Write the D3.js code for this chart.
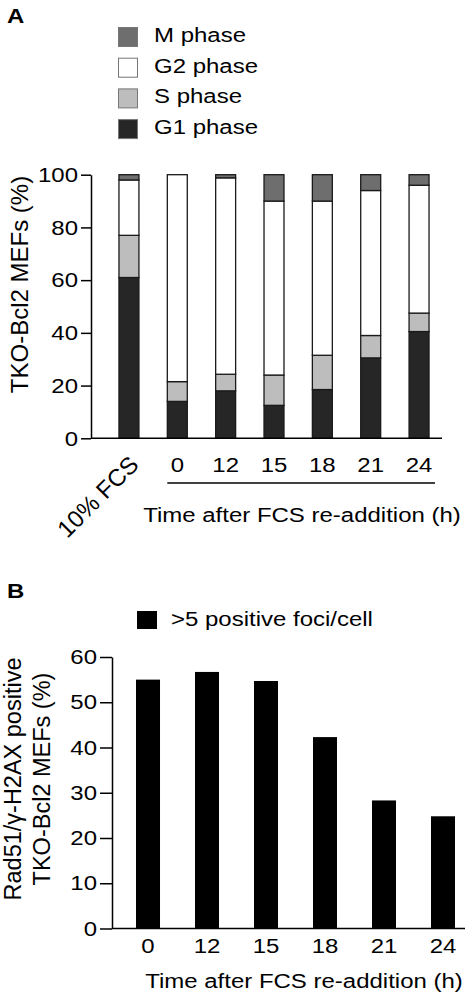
<!DOCTYPE html>
<html><head><meta charset="utf-8">
<script src="https://cdn.jsdelivr.net/npm/d3@7"></script>
<style>
body{margin:0;background:#fff}
svg{display:block}
text{font-family:"Liberation Sans",Arial,Helvetica,sans-serif;fill:#000}
</style>
</head><body>
<svg id="c" width="473" height="997"></svg>
<script>
// ---------- Data ----------
const categoriesA = ["10% FCS","0","12","15","18","21","24"];
const phases = ["G1 phase","S phase","G2 phase","M phase"];
const g1Values = [61, 14, 18, 12.5, 18.5, 30.5, 40.5];
const sValues  = [16, 7.5, 6.3, 11.5, 13, 8.5, 7];
const g2Values = [21, 78.5, 74.5, 66, 58.5, 55, 48.5];
const mValues  = [2, 0, 1.2, 10, 10, 6, 4];
const ticksA = [0,20,40,60,80,100];
const legendOrderA = ["M phase","G2 phase","S phase","G1 phase"];

const categoriesB = ["0","12","15","18","21","24"];
const fociValues = [55, 56.7, 54.7, 42.3, 28.3, 24.8];
const ticksB = [0,10,20,30,40,50,60];

// ---------- Helpers ----------
const svg = d3.select("#c");
const FS = 24, SY = 0.875;
function htext(parent, x, y, str, anchor, bold) {
  const t = parent.append("text")
    .attr("transform", `translate(${x},${y}) scale(1,${SY})`)
    .attr("text-anchor", anchor || "start")
    .style("font-size", FS + "px")
    .text(str);
  if (bold) t.style("font-weight", "bold");
  return t;
}
function styleAxis(ax) {
  ax.attr("font-size", null).attr("font-family", null);
  ax.select(".domain").attr("stroke", "#000").attr("stroke-width", 1.5);
  ax.selectAll(".tick line").attr("stroke", "#000").attr("stroke-width", 1.5);
  ax.selectAll(".tick text").style("font-size", FS + "px");
}

// ---------- Panel A ----------
const colors = {"G1 phase":"#262626","S phase":"#bdbdbd","G2 phase":"#ffffff","M phase":"#6e6e6e"};
const rowsA = categoriesA.map((c,i)=>({cat:c,"G1 phase":g1Values[i],"S phase":sValues[i],"G2 phase":g2Values[i],"M phase":mValues[i]}));
const stackA = d3.stack().keys(phases)(rowsA);
const yA = d3.scaleLinear().domain([0,100]).range([438.3,174.7]);
const xA = d3.scaleBand().domain(categoriesA).range([104.8,443.2]).paddingInner(0.587).paddingOuter(0.293);
const axXA = 91;
const gA = svg.append("g");
htext(gA, 7, 23, "A", "start", true);

const legA = gA.append("g");
legendOrderA.forEach((p,i)=>{
  const yy = 27 + i*30.7;
  legA.append("rect").attr("x",118.5).attr("y",yy+0.5).attr("width",19).attr("height",19)
    .attr("fill",colors[p]).attr("stroke","#777").attr("stroke-width",1);
  htext(legA, 154, yy+15, p);
});

gA.append("g").selectAll("g").data(stackA).join("g").attr("fill", d=>colors[d.key])
  .selectAll("rect").data(d=>d).join("rect")
  .attr("x", d=>xA(d.data.cat)).attr("width", xA.bandwidth())
  .attr("y", d=>yA(d[1])).attr("height", d=>yA(d[0])-yA(d[1]))
  .attr("stroke","#1a1a1a").attr("stroke-width",1.3);

const yAxisA = gA.append("g").attr("transform",`translate(${axXA},0)`)
  .call(d3.axisLeft(yA).tickValues(ticksA).tickSize(10).tickPadding(3).tickSizeOuter(0));
styleAxis(yAxisA);
yAxisA.selectAll(".tick text").attr("transform",`scale(1,${SY})`);

gA.append("line").attr("x1",axXA).attr("x2",442).attr("y1",yA(0)).attr("y2",yA(0))
  .attr("stroke","#000").attr("stroke-width",1.5);

const xAxisA = gA.append("g").attr("transform",`translate(0,${yA(0)})`).call(d3.axisBottom(xA).tickSize(0));
xAxisA.attr("font-size", null).attr("font-family", null);
xAxisA.select(".domain").remove();
xAxisA.selectAll(".tick text").attr("y",0).attr("dy",0).style("font-size",FS+"px")
  .attr("text-anchor", d=> d==="10% FCS" ? "end" : "middle")
  .attr("transform", d => d==="10% FCS" ? `translate(11,28) rotate(-45)` : `translate(0,34) scale(1,${SY})`);

gA.append("line").attr("x1",xA(categoriesA[1])).attr("x2",xA(categoriesA[6])+xA.bandwidth()+6)
  .attr("y1",483).attr("y2",483).attr("stroke","#000").attr("stroke-width",1.5);
htext(gA, 302, 521.7, "Time after FCS re-addition (h)", "middle");

gA.append("text").attr("transform","translate(28,284.5) rotate(-90)").attr("text-anchor","middle")
  .style("font-size",FS+"px").text("TKO-Bcl2 MEFs (%)");

// ---------- Panel B ----------
const yB = d3.scaleLinear().domain([0,60]).range([928.5,657]);
const xB = d3.scaleBand().domain(categoriesB).range([118.5,472.5]).paddingInner(0.593).paddingOuter(0.2966);
const axXB = 112;
const gB = svg.append("g");
htext(gB, 7, 598, "B", "start", true);

gB.append("rect").attr("x",137).attr("y",611).attr("width",20).attr("height",18).attr("fill","#000");
htext(gB, 171, 626, ">5 positive foci/cell");

gB.append("g").selectAll("rect").data(categoriesB).join("rect")
  .attr("x", d=>xB(d)).attr("width", xB.bandwidth())
  .attr("y", (d,i)=>yB(fociValues[i])).attr("height", (d,i)=>yB(0)-yB(fociValues[i]))
  .attr("fill","#000");

const yAxisB = gB.append("g").attr("transform",`translate(${axXB},0)`)
  .call(d3.axisLeft(yB).tickValues(ticksB).tickSize(12).tickPadding(3).tickSizeOuter(0));
styleAxis(yAxisB);
yAxisB.selectAll(".tick text").attr("transform",`scale(1,${SY})`);

gB.append("line").attr("x1",axXB).attr("x2",465).attr("y1",yB(0)).attr("y2",yB(0))
  .attr("stroke","#000").attr("stroke-width",1.5);

const xAxisB = gB.append("g").attr("transform",`translate(0,${yB(0)})`).call(d3.axisBottom(xB).tickSize(0));
xAxisB.attr("font-size", null).attr("font-family", null);
xAxisB.select(".domain").remove();
xAxisB.selectAll(".tick text").attr("y",0).attr("dy",0).style("font-size",FS+"px")
  .attr("text-anchor","middle").attr("transform",`translate(0,24.8) scale(1,${SY})`);

htext(gB, 304, 988, "Time after FCS re-addition (h)", "middle");

gB.append("text").attr("transform","translate(21,779) rotate(-90)").attr("text-anchor","middle")
  .style("font-size","23.5px").text("Rad51/γ-H2AX positive");
gB.append("text").attr("transform","translate(50,779) rotate(-90)").attr("text-anchor","middle")
  .style("font-size","23.5px").text("TKO-Bcl2 MEFs (%)");
</script>
</body></html>
